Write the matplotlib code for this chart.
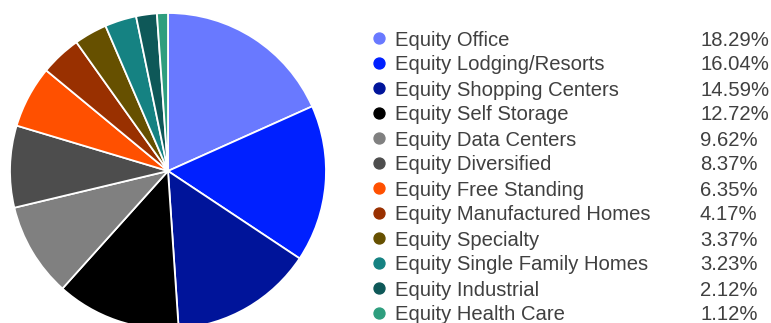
import matplotlib
matplotlib.use("Agg")
import matplotlib.pyplot as plt

plt.rcParams["font.family"] = ["Liberation Sans", "DejaVu Sans"]

sectors = [
    "Equity Office",
    "Equity Lodging/Resorts",
    "Equity Shopping Centers",
    "Equity Self Storage",
    "Equity Data Centers",
    "Equity Diversified",
    "Equity Free Standing",
    "Equity Manufactured Homes",
    "Equity Specialty",
    "Equity Single Family Homes",
    "Equity Industrial",
    "Equity Health Care",
]
weights = [18.29, 16.04, 14.59, 12.72, 9.62, 8.37, 6.35, 4.17, 3.37, 3.23, 2.12, 1.12]
colors = [
    "#6979FF", "#0020FF", "#00149A", "#000000", "#808080", "#4D4D4D",
    "#FF5000", "#993000", "#665000", "#158282", "#0E5858", "#2E9E7E",
]

W, H = 771, 323
fig = plt.figure(figsize=(W / 100, H / 100), dpi=100)
ax = fig.add_axes([0, 0, 1, 1])
ax.set_xlim(0, W)
ax.set_ylim(0, H)
ax.set_aspect("equal")
ax.axis("off")

# pie in pixel units, bottom runs off the canvas
ax.pie(weights, colors=colors, center=(168, H - 171), radius=158,
       startangle=90, counterclock=False,
       wedgeprops=dict(edgecolor="white", linewidth=1.3))
ax.set_xlim(0, W)
ax.set_ylim(0, H)

row0, step = 38, 25
for i, (name, w, c) in enumerate(zip(sectors, weights, colors)):
    y = H - (row0 + i * step)
    ax.scatter([379], [y], s=62, color=c, zorder=3, clip_on=False)
    ax.text(395, y - 7.5, name, fontsize=14.6, color="#404040", va="baseline", ha="left")
    ax.text(700, y - 7.5, f"{w:.2f}%", fontsize=14.6, color="#404040", va="baseline", ha="left")

fig.savefig("out.png", dpi=100)
